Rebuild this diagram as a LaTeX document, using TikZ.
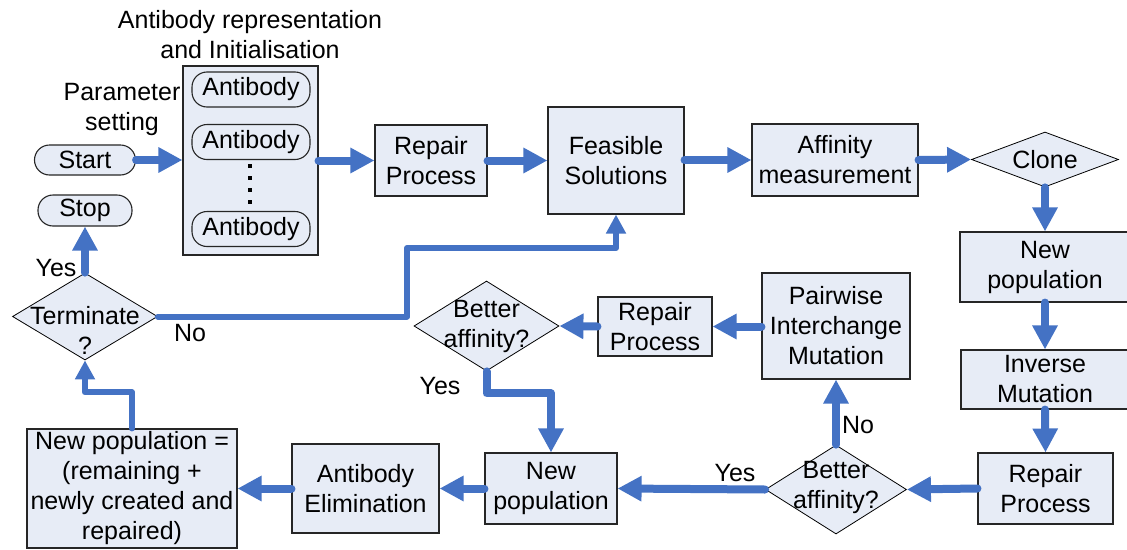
\documentclass[tikz,border=0pt]{standalone}
\usepackage{fontspec}
\setmainfont{Liberation Sans}
\usetikzlibrary{arrows.meta,shapes.geometric}
\definecolor{flowblue}{RGB}{68,114,196}
\definecolor{boxfill}{RGB}{231,236,246}

\begin{document}
\begin{tikzpicture}[x=1pt,y=-1pt,
  txt/.style={font=\fontsize{25}{30}\selectfont, align=center, inner sep=0pt},
  box/.style={txt, draw=black!85, line width=1.1pt, fill=boxfill},
  pill/.style={box, rounded corners=15pt},
  dia/.style={shape=diamond, draw=black, line width=0.8pt, fill=boxfill, inner sep=0pt},
  flow/.style={draw=flowblue, line width=8pt, line cap=round, line join=round,
    -{Triangle[length=24pt,width=24pt]}},
  fb/.style={flow, line width=6pt, -{Triangle[length=19pt,width=19pt]}}]

\useasboundingbox (0,0) rectangle (1127,549);
\fill[white] (0,0) rectangle (1127,549);

% --- initialisation block ---
\node[txt] (title) at (250,35) {Antibody representation\\and Initialisation};
\node[txt] (param) at (122,109.5) {Parameter\\setting};
\node[pill, minimum width=101, minimum height=30] (start) at (85,160) {Start};
\node[pill, minimum width=94, minimum height=31] (stop) at (85,210.5) {Stop};

\node[box, minimum width=135, minimum height=189] (init) at (250.5,160.5) {};
\node[pill, minimum width=118, minimum height=35] (ab1) at (251,89.5) {Antibody};
\node[pill, minimum width=118, minimum height=35] (ab2) at (251,142) {Antibody};
\node[pill, minimum width=118, minimum height=35] (ab3) at (251,229) {Antibody};
\foreach \yy in {166,178,190,202}
  \fill (248,\yy-2) rectangle (252,\yy+2);

% --- top row ---
\node[box, minimum width=112, minimum height=71] (rp1) at (431,160.5) {Repair\\Process};
\node[box, minimum width=136, minimum height=107] (feas) at (616,160.5) {Feasible\\Solutions};
\node[box, minimum width=166, minimum height=72] (aff) at (835,160) {Affinity\\measurement};
\node[dia, minimum width=147, minimum height=55] (clone) at (1045,159.5) {};
\node[txt] (clonetxt) at (1045,159.5) {Clone};

% --- right column ---
\node[box, minimum width=170, minimum height=70] (np1) at (1045,267) {New\\population};
\node[box, minimum width=168, minimum height=59] (inv) at (1045,379.5) {Inverse\\Mutation};
\node[box, minimum width=135, minimum height=71] (rp3) at (1045.5,488.5) {Repair\\Process};

% --- mutation loop ---
\node[dia, minimum width=141, minimum height=89] (ba2) at (836,489.5) {};
\node[txt] (ba2txt) at (836,487) {Better\\affinity?};
\node[box, minimum width=148, minimum height=106] (pim) at (836,326) {Pairwise\\Interchange\\Mutation};
\node[box, minimum width=114, minimum height=59] (rp2) at (655,326.5) {Repair\\Process};
\node[dia, minimum width=145, minimum height=90] (ba1) at (486.5,326) {};
\node[txt] (ba1txt) at (486.5,326) {Better\\affinity?};

% --- bottom row ---
\node[box, minimum width=132, minimum height=71] (np2) at (551,488.5) {New\\population};
\node[box, minimum width=147, minimum height=89] (elim) at (365.5,488.5) {Antibody\\Elimination};
\node[box, minimum width=210, minimum height=119] (npe) at (132,488.5)
  {New population =\\(remaining +\\newly created and\\repaired)};
\node[dia, minimum width=145, minimum height=87] (term) at (85,316.5) {};
\node[txt] (termtxt) at (85,330) {Terminate\\?};

% --- branch labels ---
\node[txt] (yesA) at (735,473) {Yes};
\node[txt] (noA) at (858,425) {No};
\node[txt] (yesB) at (440,386) {Yes};
\node[txt] (yesC) at (56,268) {Yes};
\node[txt] (noC) at (190,333) {No};

% --- connectors ---
\draw[flow] (start.east) -- (init.west |- start.east);
\draw[flow] (init.east |- rp1.west) -- (rp1.west);
\draw[flow] (rp1.east) -- (feas.west |- rp1.east);
\draw[flow] (feas.east |- aff.west) -- (aff.west);
\draw[flow] (aff.east) -- (clone.west);
\draw[flow] (clone.south) -- (np1.north);
\draw[flow] (np1.south) -- (inv.north);
\draw[flow] (inv.south) -- (rp3.north);
\draw[flow] (rp3.west) -- (ba2.east);
\draw[flow] (ba2.west) -- (np2.east);
\draw[flow] (ba2.north) -- (pim.south);
\draw[flow] (pim.west |- rp2.east) -- (rp2.east);
\draw[flow] (rp2.west) -- (ba1.east);
\draw[flow] (ba1.south) -- ++(0,22) -| (np2.north);
\draw[flow] (np2.west) -- (elim.east);
\draw[flow] (elim.west) -- (npe.east |- elim.west);
\draw[flow] (term.north) -- (stop.south);
\draw[fb] (npe.north) -- ++(0,-36) -| (term.south);
\coordinate (nobend) at (407,248);
\draw[fb] (term.east) -| (nobend) -| (feas.south);
\end{tikzpicture}
\end{document}
